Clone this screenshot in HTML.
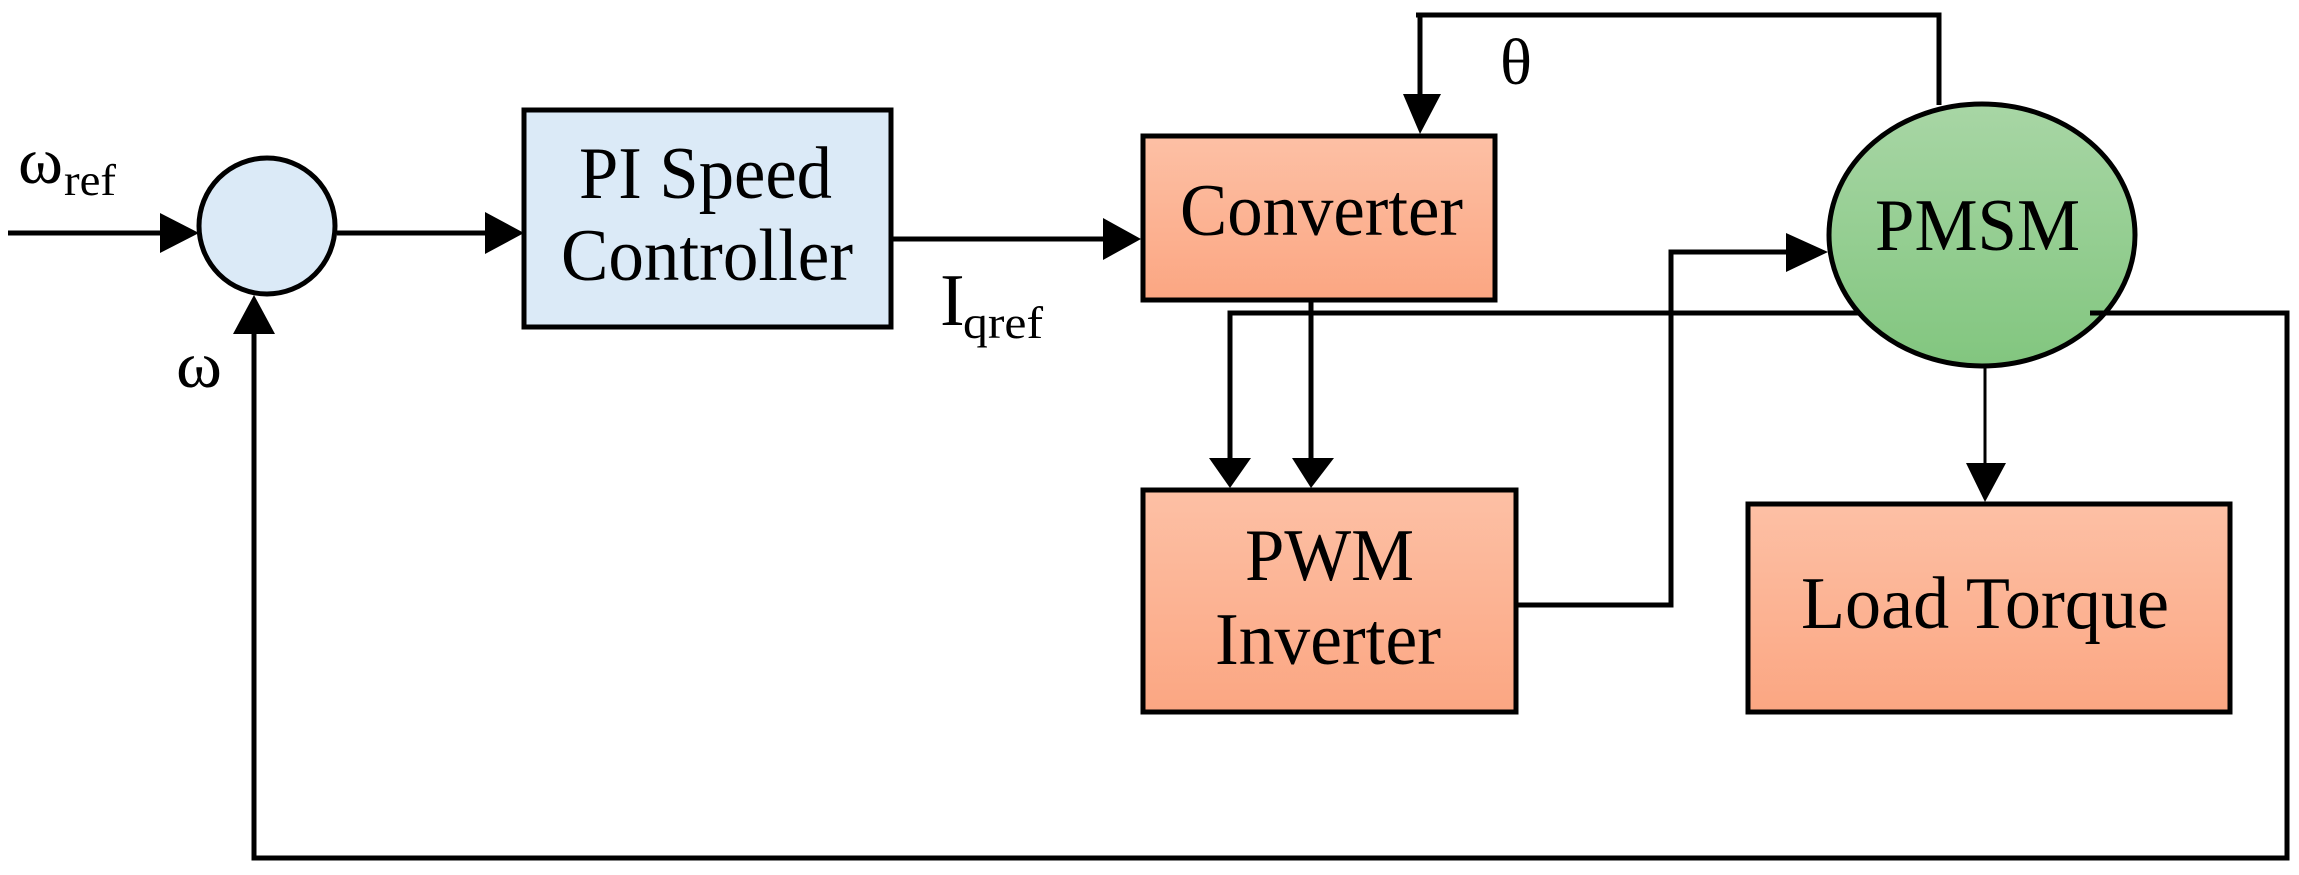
<!DOCTYPE html>
<html><head><meta charset="utf-8"><style>
html,body{margin:0;padding:0;background:#fff;}
svg{display:block;}
text{font-family:"Liberation Serif",serif;fill:#000;}
</style></head><body>
<svg width="2299" height="875" viewBox="0 0 2299 875" xmlns="http://www.w3.org/2000/svg">
<defs>
<linearGradient id="og" x1="0" y1="0" x2="0" y2="1"><stop offset="0" stop-color="#fdc0a5"/><stop offset="1" stop-color="#fba682"/></linearGradient>
<linearGradient id="gg" x1="0" y1="0" x2="0" y2="1"><stop offset="0" stop-color="#a8d6a5"/><stop offset="1" stop-color="#82c67f"/></linearGradient>
</defs>
<g stroke="#000" stroke-width="5" fill="none">
<line x1="8" y1="233" x2="165" y2="233"/>
<line x1="337" y1="233" x2="490" y2="233"/>
<line x1="887" y1="239" x2="1108" y2="239"/>
<polyline points="254,330 254,858 2287,858 2287,313 2090,313"/>
<polyline points="1416,15 1939,15 1939,105"/>
<line x1="1420" y1="15" x2="1420" y2="100"/>
<line x1="1311" y1="300" x2="1311" y2="462"/>
<polyline points="1858,313 1230,313 1230,462"/>
<polyline points="1517,605 1671,605 1671,252 1790,252"/>
</g>
<line x1="1985" y1="367" x2="1985" y2="468" stroke="#000" stroke-width="3"/>
<g fill="#000">
<polygon points="199,233 160,213 160,253"/>
<polygon points="524,233 485,212 485,254"/>
<polygon points="1141,239 1103,218 1103,260"/>
<polygon points="254,295 233,334 275,334"/>
<polygon points="1420,134 1403,94 1441,94"/>
<polygon points="1311,488 1292,458 1334,458"/>
<polygon points="1230,488 1209,458 1251,458"/>
<polygon points="1828,252 1786,233 1786,272"/>
<polygon points="1985,502 1966,463 2006,463"/>
</g>
<circle cx="267" cy="226" r="68" fill="#dbeaf7" stroke="#000" stroke-width="5"/>
<rect x="524" y="110" width="367" height="217" fill="#dbeaf7" stroke="#000" stroke-width="5"/>
<rect x="1143" y="136" width="352" height="164" fill="url(#og)" stroke="#000" stroke-width="5"/>
<rect x="1143" y="490" width="373" height="222" fill="url(#og)" stroke="#000" stroke-width="5"/>
<rect x="1748" y="504" width="482" height="208" fill="url(#og)" stroke="#000" stroke-width="5"/>
<ellipse cx="1982" cy="235" rx="153" ry="131" fill="url(#gg)" stroke="#000" stroke-width="5"/>
<line x1="1840" y1="313" x2="1860" y2="313" stroke="#000" stroke-width="5"/>
<line x1="2090" y1="313" x2="2110" y2="313" stroke="#000" stroke-width="5"/>
<text x="579" y="198" font-size="74" textLength="253" lengthAdjust="spacingAndGlyphs">PI Speed</text>
<text x="561" y="280" font-size="74" textLength="292" lengthAdjust="spacingAndGlyphs">Controller</text>
<text x="1180" y="235" font-size="74" textLength="283" lengthAdjust="spacingAndGlyphs">Converter</text>
<text x="1875" y="250" font-size="74" textLength="205" lengthAdjust="spacingAndGlyphs">PMSM</text>
<text x="1245" y="580" font-size="74" textLength="169" lengthAdjust="spacingAndGlyphs">PWM</text>
<text x="1215" y="664" font-size="74" textLength="226" lengthAdjust="spacingAndGlyphs">Inverter</text>
<text x="1801" y="628" font-size="74" textLength="368" lengthAdjust="spacingAndGlyphs">Load Torque</text>
<text x="18" y="183" font-size="66" textLength="45" lengthAdjust="spacingAndGlyphs">ω</text>
<text x="64" y="195" font-size="44" textLength="52" lengthAdjust="spacingAndGlyphs">ref</text>
<text x="176" y="387" font-size="66" textLength="46" lengthAdjust="spacingAndGlyphs">ω</text>
<text x="940" y="325" font-size="74">I</text>
<text x="963" y="338" font-size="46" textLength="80" lengthAdjust="spacingAndGlyphs">qref</text>
<text x="1500" y="84" font-size="66" textLength="32" lengthAdjust="spacingAndGlyphs">θ</text>
</svg>
</body></html>
